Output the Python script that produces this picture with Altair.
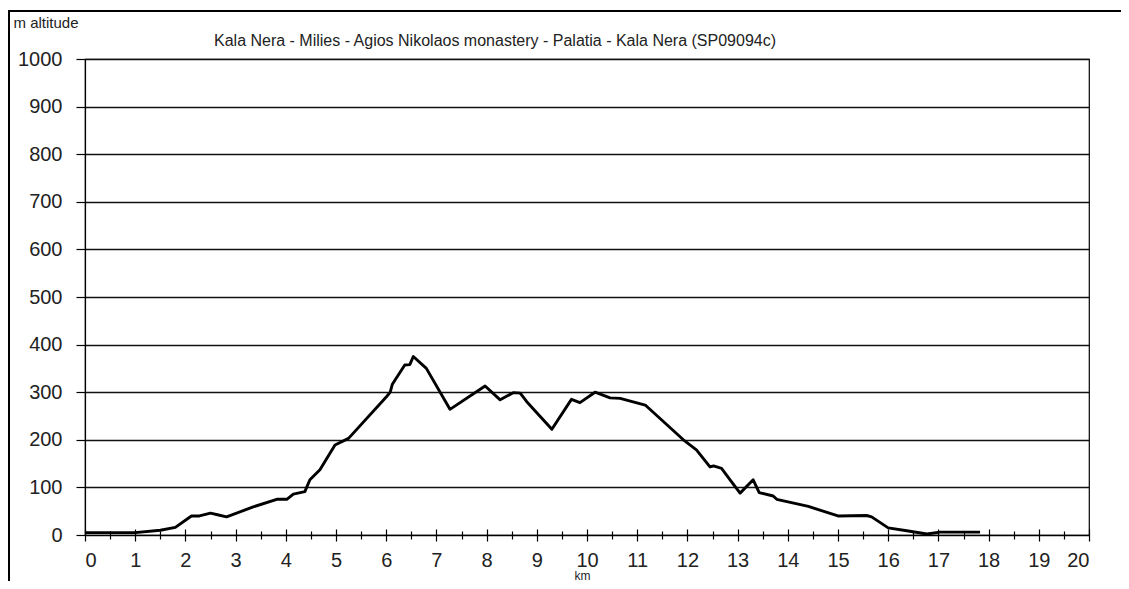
import altair as alt
import pandas as pd

# distance (km) and altitude (m)
km = [0, 1.0, 1.5, 1.8, 2.12, 2.28, 2.5, 2.66, 2.82, 3.35, 3.82, 4.02, 4.15, 4.38,
      4.48, 4.68, 4.98, 5.25, 6.01, 6.08, 6.12, 6.18, 6.37, 6.47, 6.54, 6.8, 7.27,
      7.97, 8.27, 8.53, 8.67, 8.8, 9.3, 9.69, 9.86, 10.16, 10.46, 10.66, 11.16,
      11.92, 12.18, 12.45, 12.52, 12.68, 12.85, 13.05, 13.31, 13.43, 13.71, 13.78,
      14.41, 15.0, 15.57, 15.67, 16.0, 16.37, 16.77, 17.03, 17.83]
altitude = [5, 5, 10, 16, 40, 40, 46, 42, 38, 59, 75, 75, 86, 91,
            116, 137, 189, 203, 291, 300, 316, 326, 357, 358, 375, 350, 264,
            313, 284, 299, 298, 280, 222, 285, 278, 300, 288, 287, 273,
            200, 179, 143, 145, 140, 116, 88, 116, 89, 82, 75,
            60, 40, 41, 38, 15, 9, 2, 6, 6]

x_major = list(range(0, 21))
x_minor = [i + 0.5 for i in range(0, 20)]
y_ticks = list(range(0, 1001, 100))

title_text = "Kala Nera - Milies - Agios Nikolaos monastery - Palatia - Kala Nera (SP09094c)"
FONT = "Liberation Sans"

df = pd.DataFrame({"km": km, "alt": altitude})

xscale = alt.Scale(domain=[0, 20], nice=False, zero=False)
yscale = alt.Scale(domain=[0, 1000], nice=False)

line = alt.Chart(df).mark_line(color="black", strokeWidth=2.9, strokeJoin="round").encode(
    x=alt.X("km:Q", scale=xscale,
            axis=alt.Axis(values=x_major, orient="bottom", tickSize=6, tickColor="black",
                          tickWidth=1.2, domainColor="black", domainWidth=1.2,
                          labelFontSize=20, labelFont=FONT, labelColor="#222",
                          labelPadding=9, grid=False, title="km", titleFont=FONT,
                          titleFontSize=12, titleFontWeight="normal", titleColor="#222",
                          titleX=497, titleY=44, titleBaseline="alphabetic",
                          titleAnchor="start", titleAlign="center")),
    y=alt.Y("alt:Q", scale=yscale,
            axis=alt.Axis(values=y_ticks, format="d", tickSize=9, tickColor="black",
                          tickWidth=1.2, domainColor="black", domainWidth=1.2,
                          labelFontSize=20, labelFont=FONT, labelColor="#222",
                          labelPadding=14, grid=True, gridColor="#111", gridWidth=1.3,
                          title="m altitude", titleFont=FONT, titleFontSize=15,
                          titleFontWeight="normal", titleColor="#222", titleAngle=0,
                          titleX=-72, titleY=-32, titleAlign="left",
                          titleBaseline="alphabetic", titleAnchor="start")),
)


def tick_layer(vals, size, offset):
    return alt.Chart(pd.DataFrame({"v": vals})).mark_point(opacity=0).encode(
        x=alt.X("v:Q", scale=xscale,
                axis=alt.Axis(values=vals, orient="bottom", tickSize=size, offset=offset,
                              tickColor="black", tickWidth=1.2, labels=False, domain=False,
                              grid=False, title=None)),
    )


minor_out = tick_layer(x_minor, 4, 0)
major_in = tick_layer(x_major, 6, -6)
minor_in = tick_layer(x_minor, 4, -4)

title_mark = alt.Chart(pd.DataFrame({"t": [title_text]})).mark_text(
    font=FONT, fontSize=16, color="#222", align="center", baseline="alphabetic"
).encode(text="t:N", x=alt.value(410), y=alt.value(-13))

frame_top = alt.Chart(df).mark_rule(color="black", strokeWidth=1.5).encode(
    x=alt.value(-77), x2=alt.value(1040), y=alt.value(-48))
frame_left = alt.Chart(df).mark_rule(color="black", strokeWidth=1.5).encode(
    x=alt.value(-76.5), y=alt.value(-48), y2=alt.value(530))

chart = alt.layer(line, minor_out, major_in, minor_in, title_mark, frame_top, frame_left).resolve_axis(
    x="independent"
).properties(
    width=1004, height=476,
    padding={"left": 77, "top": 51, "right": 32, "bottom": 46},
    autosize=alt.AutoSizeParams(type="none"),
).configure(background="white").configure_view(stroke="black", strokeWidth=1.2)

chart.save("out.html", embed_options={"renderer": "svg", "actions": False})
